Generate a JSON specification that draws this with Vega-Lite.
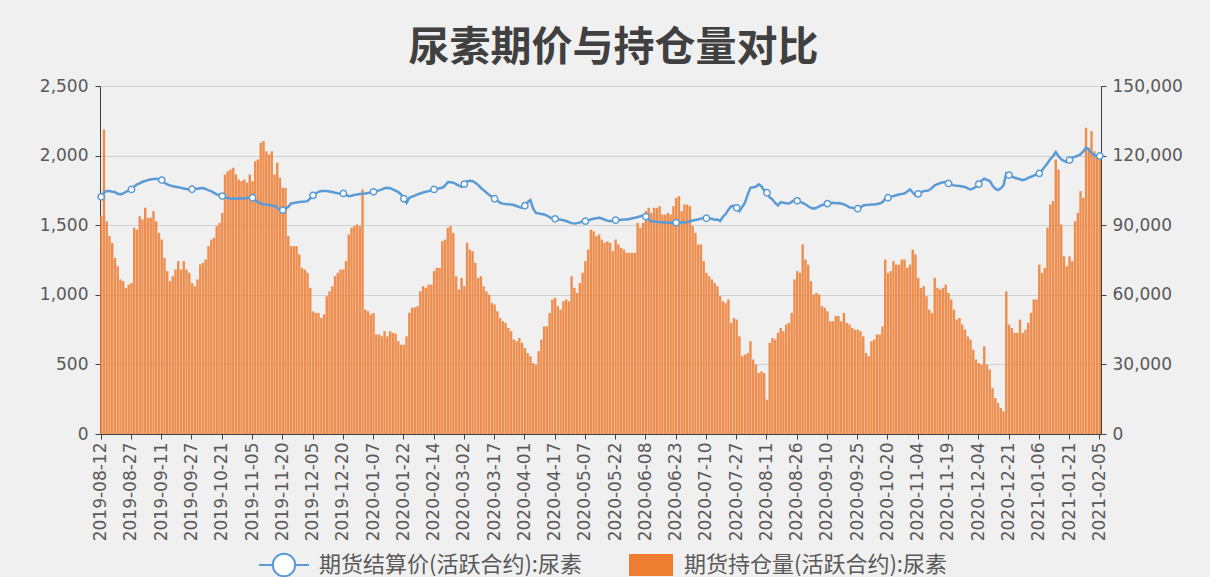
{
"$schema": "https://vega.github.io/schema/vega-lite/v6.json",
"width": 1001, "height": 348,
"autosize": {"type": "none"},
"padding": {"left": 100, "top": 86, "right": 109, "bottom": 143},
"background": "#f0f0f0",
"title": {"text": "尿素期价与持仓量对比", "fontSize": 41, "font": "Noto Sans CJK SC", "fontWeight": "bold", "color": "#404040", "anchor": "middle", "frame": "group", "offset": 7, "dx": 13},
"config": {"view": {"stroke": null}, "axis": {"labelFont": "DejaVu Sans", "labelColor": "#595959", "domainColor": "#404040", "tickColor": "#404040"}},
"data": {"values": [
{"date":"2019-08-12","price":1704,"oi":93900},{"date":"2019-08-13","price":1735,"oi":131300},{"date":"2019-08-14","price":1745,"oi":91700},{"date":"2019-08-15","price":1746,"oi":85300},{"date":"2019-08-16","price":1740,"oi":82400},{"date":"2019-08-19","price":1738,"oi":75900},{"date":"2019-08-20","price":1726,"oi":72300},{"date":"2019-08-21","price":1721,"oi":66600},{"date":"2019-08-22","price":1728,"oi":65900},{"date":"2019-08-23","price":1740,"oi":63000},
{"date":"2019-08-26","price":1750,"oi":64400},{"date":"2019-08-27","price":1757,"oi":65100},{"date":"2019-08-28","price":1778,"oi":88900},{"date":"2019-08-29","price":1793,"oi":88100},{"date":"2019-08-30","price":1800,"oi":93900},{"date":"2019-09-02","price":1812,"oi":92500},{"date":"2019-09-03","price":1817,"oi":97500},{"date":"2019-09-04","price":1825,"oi":93200},{"date":"2019-09-05","price":1829,"oi":93200},{"date":"2019-09-06","price":1832,"oi":96100},
{"date":"2019-09-09","price":1834,"oi":91700},{"date":"2019-09-10","price":1830,"oi":86700},{"date":"2019-09-11","price":1824,"oi":83800},{"date":"2019-09-12","price":1805,"oi":75900},{"date":"2019-09-16","price":1793,"oi":70200},{"date":"2019-09-17","price":1786,"oi":65900},{"date":"2019-09-18","price":1780,"oi":68000},{"date":"2019-09-19","price":1776,"oi":70900},{"date":"2019-09-20","price":1772,"oi":74500},{"date":"2019-09-23","price":1768,"oi":70900},
{"date":"2019-09-24","price":1764,"oi":74500},{"date":"2019-09-25","price":1760,"oi":70900},{"date":"2019-09-26","price":1757,"oi":69500},{"date":"2019-09-27","price":1758,"oi":65100},{"date":"2019-09-30","price":1762,"oi":63700},{"date":"2019-10-08","price":1762,"oi":66600},{"date":"2019-10-09","price":1766,"oi":73100},{"date":"2019-10-10","price":1767,"oi":73800},{"date":"2019-10-11","price":1760,"oi":75200},{"date":"2019-10-14","price":1750,"oi":81000},
{"date":"2019-10-15","price":1745,"oi":83800},{"date":"2019-10-16","price":1732,"oi":84600},{"date":"2019-10-17","price":1721,"oi":89600},{"date":"2019-10-18","price":1715,"oi":91000},{"date":"2019-10-21","price":1709,"oi":95300},{"date":"2019-10-22","price":1702,"oi":111900},{"date":"2019-10-23","price":1695,"oi":113300},{"date":"2019-10-24","price":1690,"oi":114000},{"date":"2019-10-25","price":1691,"oi":114800},{"date":"2019-10-28","price":1690,"oi":111900},
{"date":"2019-10-29","price":1693,"oi":109700},{"date":"2019-10-30","price":1692,"oi":109000},{"date":"2019-10-31","price":1692,"oi":109700},{"date":"2019-11-01","price":1695,"oi":108300},{"date":"2019-11-04","price":1697,"oi":111900},{"date":"2019-11-05","price":1697,"oi":109000},{"date":"2019-11-06","price":1675,"oi":117600},{"date":"2019-11-07","price":1666,"oi":118300},{"date":"2019-11-08","price":1655,"oi":125500},{"date":"2019-11-11","price":1649,"oi":126300},
{"date":"2019-11-12","price":1648,"oi":121900},{"date":"2019-11-13","price":1645,"oi":120500},{"date":"2019-11-14","price":1642,"oi":121900},{"date":"2019-11-15","price":1638,"oi":111900},{"date":"2019-11-18","price":1625,"oi":116900},{"date":"2019-11-19","price":1610,"oi":110400},{"date":"2019-11-20","price":1608,"oi":106100},{"date":"2019-11-21","price":1618,"oi":106100},{"date":"2019-11-22","price":1632,"oi":85300},{"date":"2019-11-25","price":1656,"oi":81000},
{"date":"2019-11-26","price":1660,"oi":81000},{"date":"2019-11-27","price":1663,"oi":81000},{"date":"2019-11-28","price":1666,"oi":77400},{"date":"2019-11-29","price":1668,"oi":71600},{"date":"2019-12-02","price":1670,"oi":70900},{"date":"2019-12-03","price":1673,"oi":69500},{"date":"2019-12-04","price":1692,"oi":63000},{"date":"2019-12-05","price":1714,"oi":52900},{"date":"2019-12-06","price":1728,"oi":52200},{"date":"2019-12-09","price":1740,"oi":52200},
{"date":"2019-12-10","price":1745,"oi":50000},{"date":"2019-12-11","price":1746,"oi":51500},{"date":"2019-12-12","price":1745,"oi":59400},{"date":"2019-12-13","price":1742,"oi":61500},{"date":"2019-12-16","price":1738,"oi":63700},{"date":"2019-12-17","price":1733,"oi":68000},{"date":"2019-12-18","price":1730,"oi":69500},{"date":"2019-12-19","price":1728,"oi":70900},{"date":"2019-12-20","price":1728,"oi":70900},{"date":"2019-12-23","price":1718,"oi":74500},
{"date":"2019-12-24","price":1709,"oi":86000},{"date":"2019-12-25","price":1712,"oi":88900},{"date":"2019-12-26","price":1718,"oi":89600},{"date":"2019-12-27","price":1721,"oi":90300},{"date":"2019-12-30","price":1724,"oi":89600},{"date":"2019-12-31","price":1726,"oi":105400},{"date":"2020-01-02","price":1728,"oi":53600},{"date":"2020-01-03","price":1731,"oi":52900},{"date":"2020-01-06","price":1736,"oi":51500},{"date":"2020-01-07","price":1740,"oi":52200},
{"date":"2020-01-08","price":1745,"oi":42900},{"date":"2020-01-09","price":1750,"oi":42900},{"date":"2020-01-10","price":1757,"oi":42100},{"date":"2020-01-13","price":1765,"oi":44300},{"date":"2020-01-14","price":1769,"oi":42100},{"date":"2020-01-15","price":1766,"oi":44300},{"date":"2020-01-16","price":1757,"oi":43600},{"date":"2020-01-17","price":1748,"oi":43300},{"date":"2020-01-20","price":1738,"oi":40000},{"date":"2020-01-21","price":1721,"oi":38500},
{"date":"2020-01-22","price":1690,"oi":38500},{"date":"2020-01-23","price":1661,"oi":42100},{"date":"2020-02-03","price":1697,"oi":52200},{"date":"2020-02-04","price":1705,"oi":54400},{"date":"2020-02-05","price":1712,"oi":54600},{"date":"2020-02-06","price":1721,"oi":55100},{"date":"2020-02-07","price":1728,"oi":61500},{"date":"2020-02-10","price":1735,"oi":63700},{"date":"2020-02-11","price":1740,"oi":63000},{"date":"2020-02-12","price":1745,"oi":64400},
{"date":"2020-02-13","price":1752,"oi":64400},{"date":"2020-02-14","price":1757,"oi":70200},{"date":"2020-02-17","price":1762,"oi":71600},{"date":"2020-02-18","price":1765,"oi":71600},{"date":"2020-02-19","price":1769,"oi":83100},{"date":"2020-02-20","price":1785,"oi":83800},{"date":"2020-02-21","price":1810,"oi":88900},{"date":"2020-02-24","price":1808,"oi":89600},{"date":"2020-02-25","price":1805,"oi":86700},{"date":"2020-02-26","price":1795,"oi":68000},
{"date":"2020-02-27","price":1785,"oi":62300},{"date":"2020-02-28","price":1776,"oi":67300},{"date":"2020-03-02","price":1795,"oi":63700},{"date":"2020-03-03","price":1817,"oi":82400},{"date":"2020-03-04","price":1820,"oi":79500},{"date":"2020-03-05","price":1817,"oi":78800},{"date":"2020-03-06","price":1805,"oi":73800},{"date":"2020-03-09","price":1790,"oi":67300},{"date":"2020-03-10","price":1769,"oi":68000},{"date":"2020-03-11","price":1752,"oi":63700},
{"date":"2020-03-12","price":1735,"oi":61500},{"date":"2020-03-13","price":1718,"oi":60100},{"date":"2020-03-16","price":1704,"oi":56500},{"date":"2020-03-17","price":1690,"oi":55800},{"date":"2020-03-18","price":1675,"oi":52900},{"date":"2020-03-19","price":1661,"oi":50000},{"date":"2020-03-20","price":1655,"oi":48600},{"date":"2020-03-23","price":1652,"oi":47900},{"date":"2020-03-24","price":1650,"oi":45700},{"date":"2020-03-25","price":1649,"oi":44300},
{"date":"2020-03-26","price":1645,"oi":40700},{"date":"2020-03-27","price":1638,"oi":40000},{"date":"2020-03-30","price":1630,"oi":41400},{"date":"2020-03-31","price":1625,"oi":39300},{"date":"2020-04-01","price":1640,"oi":37100},{"date":"2020-04-02","price":1665,"oi":34900},{"date":"2020-04-03","price":1680,"oi":33500},{"date":"2020-04-07","price":1620,"oi":30600},{"date":"2020-04-08","price":1589,"oi":29900},{"date":"2020-04-09","price":1585,"oi":35700},
{"date":"2020-04-10","price":1580,"oi":40700},{"date":"2020-04-13","price":1577,"oi":46400},{"date":"2020-04-14","price":1568,"oi":46400},{"date":"2020-04-15","price":1558,"oi":52200},{"date":"2020-04-16","price":1548,"oi":58000},{"date":"2020-04-17","price":1546,"oi":58700},{"date":"2020-04-20","price":1542,"oi":55100},{"date":"2020-04-21","price":1540,"oi":53600},{"date":"2020-04-22","price":1536,"oi":57200},{"date":"2020-04-23","price":1530,"oi":58000},
{"date":"2020-04-24","price":1522,"oi":57200},{"date":"2020-04-27","price":1515,"oi":68000},{"date":"2020-04-28","price":1512,"oi":63000},{"date":"2020-04-29","price":1515,"oi":60800},{"date":"2020-04-30","price":1520,"oi":65100},{"date":"2020-05-06","price":1526,"oi":69500},{"date":"2020-05-07","price":1529,"oi":74500},{"date":"2020-05-08","price":1535,"oi":79500},{"date":"2020-05-11","price":1541,"oi":88100},{"date":"2020-05-12","price":1546,"oi":87400},
{"date":"2020-05-13","price":1550,"oi":85300},{"date":"2020-05-14","price":1553,"oi":86000},{"date":"2020-05-15","price":1548,"oi":83800},{"date":"2020-05-18","price":1540,"oi":82400},{"date":"2020-05-19","price":1533,"oi":83100},{"date":"2020-05-20","price":1529,"oi":82400},{"date":"2020-05-21","price":1532,"oi":78800},{"date":"2020-05-22","price":1536,"oi":83800},{"date":"2020-05-25","price":1538,"oi":81700},{"date":"2020-05-26","price":1540,"oi":80200},
{"date":"2020-05-27","price":1541,"oi":79500},{"date":"2020-05-28","price":1541,"oi":78100},{"date":"2020-05-29","price":1545,"oi":78100},{"date":"2020-06-01","price":1550,"oi":78100},{"date":"2020-06-02","price":1553,"oi":78100},{"date":"2020-06-03","price":1558,"oi":91000},{"date":"2020-06-04","price":1564,"oi":88900},{"date":"2020-06-05","price":1570,"oi":91000},{"date":"2020-06-08","price":1562,"oi":96100},{"date":"2020-06-09","price":1540,"oi":97500},
{"date":"2020-06-10","price":1529,"oi":95300},{"date":"2020-06-11","price":1527,"oi":97500},{"date":"2020-06-12","price":1525,"oi":97500},{"date":"2020-06-15","price":1522,"oi":98200},{"date":"2020-06-16","price":1522,"oi":94600},{"date":"2020-06-17","price":1520,"oi":94600},{"date":"2020-06-18","price":1519,"oi":95300},{"date":"2020-06-19","price":1518,"oi":94600},{"date":"2020-06-22","price":1517,"oi":98200},{"date":"2020-06-23","price":1518,"oi":101800},
{"date":"2020-06-24","price":1519,"oi":102500},{"date":"2020-06-29","price":1520,"oi":96100},{"date":"2020-06-30","price":1521,"oi":98900},{"date":"2020-07-01","price":1522,"oi":98900},{"date":"2020-07-02","price":1528,"oi":98200},{"date":"2020-07-03","price":1534,"oi":89600},{"date":"2020-07-06","price":1538,"oi":86700},{"date":"2020-07-07","price":1541,"oi":81700},{"date":"2020-07-08","price":1547,"oi":81700},{"date":"2020-07-09","price":1553,"oi":74500},
{"date":"2020-07-10","price":1550,"oi":69500},{"date":"2020-07-13","price":1548,"oi":68000},{"date":"2020-07-14","price":1546,"oi":66600},{"date":"2020-07-15","price":1540,"oi":65100},{"date":"2020-07-16","price":1541,"oi":63700},{"date":"2020-07-17","price":1530,"oi":59400},{"date":"2020-07-20","price":1560,"oi":57200},{"date":"2020-07-21","price":1580,"oi":56500},{"date":"2020-07-22","price":1612,"oi":58000},{"date":"2020-07-23","price":1637,"oi":47900},
{"date":"2020-07-24","price":1640,"oi":50000},{"date":"2020-07-27","price":1625,"oi":49300},{"date":"2020-07-28","price":1601,"oi":42100},{"date":"2020-07-29","price":1630,"oi":33500},{"date":"2020-07-30","price":1661,"oi":34200},{"date":"2020-07-31","price":1720,"oi":34900},{"date":"2020-08-03","price":1769,"oi":40000},{"date":"2020-08-04","price":1772,"oi":32100},{"date":"2020-08-05","price":1776,"oi":29900},{"date":"2020-08-06","price":1793,"oi":26300},
{"date":"2020-08-07","price":1780,"oi":27000},{"date":"2020-08-10","price":1750,"oi":26300},{"date":"2020-08-11","price":1733,"oi":14800},{"date":"2020-08-12","price":1700,"oi":39300},{"date":"2020-08-13","price":1685,"oi":41400},{"date":"2020-08-14","price":1660,"oi":40700},{"date":"2020-08-17","price":1642,"oi":43600},{"date":"2020-08-18","price":1666,"oi":45700},{"date":"2020-08-19","price":1662,"oi":44300},{"date":"2020-08-20","price":1658,"oi":47200},
{"date":"2020-08-21","price":1656,"oi":47900},{"date":"2020-08-24","price":1668,"oi":52200},{"date":"2020-08-25","price":1680,"oi":66600},{"date":"2020-08-26","price":1675,"oi":70200},{"date":"2020-08-27","price":1668,"oi":69500},{"date":"2020-08-28","price":1661,"oi":81700},{"date":"2020-08-31","price":1650,"oi":75200},{"date":"2020-09-01","price":1636,"oi":73000},{"date":"2020-09-02","price":1625,"oi":65900},{"date":"2020-09-03","price":1618,"oi":60100},
{"date":"2020-09-04","price":1625,"oi":60800},{"date":"2020-09-07","price":1635,"oi":60100},{"date":"2020-09-08","price":1645,"oi":55100},{"date":"2020-09-09","price":1649,"oi":54400},{"date":"2020-09-10","price":1655,"oi":52900},{"date":"2020-09-11","price":1660,"oi":48600},{"date":"2020-09-14","price":1661,"oi":48600},{"date":"2020-09-15","price":1658,"oi":50900},{"date":"2020-09-16","price":1660,"oi":50900},{"date":"2020-09-17","price":1656,"oi":48600},
{"date":"2020-09-18","price":1650,"oi":52200},{"date":"2020-09-21","price":1640,"oi":47900},{"date":"2020-09-22","price":1628,"oi":47200},{"date":"2020-09-23","price":1625,"oi":45700},{"date":"2020-09-24","price":1620,"oi":45000},{"date":"2020-09-25","price":1618,"oi":45000},{"date":"2020-09-28","price":1628,"oi":44300},{"date":"2020-09-29","price":1642,"oi":42100},{"date":"2020-09-30","price":1645,"oi":34900},{"date":"2020-10-09","price":1646,"oi":33500},
{"date":"2020-10-12","price":1648,"oi":40000},{"date":"2020-10-13","price":1649,"oi":40700},{"date":"2020-10-14","price":1652,"oi":42900},{"date":"2020-10-15","price":1656,"oi":42900},{"date":"2020-10-16","price":1665,"oi":46400},{"date":"2020-10-19","price":1690,"oi":75200},{"date":"2020-10-20","price":1697,"oi":69500},{"date":"2020-10-21","price":1703,"oi":70200},{"date":"2020-10-22","price":1709,"oi":74500},{"date":"2020-10-23","price":1715,"oi":73000},
{"date":"2020-10-26","price":1720,"oi":73000},{"date":"2020-10-27","price":1725,"oi":75200},{"date":"2020-10-28","price":1728,"oi":75200},{"date":"2020-10-29","price":1742,"oi":71600},{"date":"2020-10-30","price":1757,"oi":73000},{"date":"2020-11-02","price":1735,"oi":79500},{"date":"2020-11-03","price":1714,"oi":77400},{"date":"2020-11-04","price":1725,"oi":67300},{"date":"2020-11-05","price":1738,"oi":63000},{"date":"2020-11-06","price":1745,"oi":63700},
{"date":"2020-11-09","price":1748,"oi":59400},{"date":"2020-11-10","price":1752,"oi":53600},{"date":"2020-11-11","price":1768,"oi":52200},{"date":"2020-11-12","price":1786,"oi":67300},{"date":"2020-11-13","price":1795,"oi":63000},{"date":"2020-11-16","price":1802,"oi":62300},{"date":"2020-11-17","price":1808,"oi":63000},{"date":"2020-11-18","price":1810,"oi":64400},{"date":"2020-11-19","price":1800,"oi":60800},{"date":"2020-11-20","price":1792,"oi":58000},
{"date":"2020-11-23","price":1786,"oi":53600},{"date":"2020-11-24","price":1784,"oi":49300},{"date":"2020-11-25","price":1781,"oi":50000},{"date":"2020-11-26","price":1778,"oi":47200},{"date":"2020-11-27","price":1775,"oi":45000},{"date":"2020-11-30","price":1765,"oi":42100},{"date":"2020-12-01","price":1757,"oi":40700},{"date":"2020-12-02","price":1765,"oi":36400},{"date":"2020-12-03","price":1776,"oi":32100},{"date":"2020-12-04","price":1795,"oi":30600},
{"date":"2020-12-07","price":1820,"oi":29900},{"date":"2020-12-08","price":1834,"oi":37800},{"date":"2020-12-09","price":1826,"oi":29900},{"date":"2020-12-10","price":1817,"oi":27800},{"date":"2020-12-11","price":1785,"oi":19800},{"date":"2020-12-14","price":1762,"oi":15500},{"date":"2020-12-15","price":1752,"oi":13400},{"date":"2020-12-16","price":1765,"oi":11200},{"date":"2020-12-17","price":1786,"oi":9800},{"date":"2020-12-18","price":1872,"oi":61500},
{"date":"2020-12-21","price":1860,"oi":47200},{"date":"2020-12-22","price":1850,"oi":45700},{"date":"2020-12-23","price":1841,"oi":43600},{"date":"2020-12-24","price":1836,"oi":43600},{"date":"2020-12-25","price":1830,"oi":49300},{"date":"2020-12-28","price":1824,"oi":43600},{"date":"2020-12-29","price":1830,"oi":45000},{"date":"2020-12-30","price":1840,"oi":47900},{"date":"2020-12-31","price":1848,"oi":52200},{"date":"2021-01-04","price":1856,"oi":58000},
{"date":"2021-01-05","price":1865,"oi":58000},{"date":"2021-01-06","price":1872,"oi":73000},{"date":"2021-01-07","price":1895,"oi":69500},{"date":"2021-01-08","price":1920,"oi":71600},{"date":"2021-01-11","price":1945,"oi":88900},{"date":"2021-01-12","price":1975,"oi":98900},{"date":"2021-01-13","price":1995,"oi":100400},{"date":"2021-01-14","price":2025,"oi":118300},{"date":"2021-01-15","price":1995,"oi":114000},{"date":"2021-01-18","price":1973,"oi":90300},
{"date":"2021-01-19","price":1962,"oi":76600},{"date":"2021-01-20","price":1954,"oi":72300},{"date":"2021-01-21","price":1968,"oi":76600},{"date":"2021-01-22","price":1985,"oi":74500},{"date":"2021-01-25","price":1992,"oi":91700},{"date":"2021-01-26","price":2000,"oi":95300},{"date":"2021-01-27","price":2009,"oi":104700},{"date":"2021-01-28","price":2030,"oi":101800},{"date":"2021-01-29","price":2057,"oi":132000},{"date":"2021-02-01","price":2045,"oi":123400},
{"date":"2021-02-02","price":2016,"oi":130600},{"date":"2021-02-03","price":2005,"oi":121900},{"date":"2021-02-04","price":1992,"oi":119800},{"date":"2021-02-05","price":1997,"oi":119800}
]},
"encoding": {
 "x": {"field": "date", "type": "ordinal", "scale": {"type": "band", "paddingInner": 0.12, "paddingOuter": 0},
  "axis": {"title": null, "values": ["2019-08-12","2019-08-27","2019-09-11","2019-09-27","2019-10-21","2019-11-05","2019-11-20","2019-12-05","2019-12-20","2020-01-07","2020-01-22","2020-02-14","2020-03-02","2020-03-17","2020-04-01","2020-04-17","2020-05-07","2020-05-22","2020-06-08","2020-06-23","2020-07-10","2020-07-27","2020-08-11","2020-08-26","2020-09-10","2020-09-25","2020-10-20","2020-11-04","2020-11-19","2020-12-04","2020-12-21","2021-01-06","2021-01-21","2021-02-05"],
   "labelAngle": -90, "labelFontSize": 17, "tickSize": 5, "labelPadding": 3, "grid": false, "labelOverlap": false}}
},
"layer": [
 {"mark": {"type": "bar", "fillOpacity": 0.85},
  "encoding": {
   "y": {"field": "oi", "type": "quantitative", "scale": {"domain": [0, 150000], "nice": false},
    "axis": {"orient": "right", "title": null, "values": [0, 30000, 60000, 90000, 120000, 150000], "format": ",d", "labelFontSize": 17, "tickSize": 5, "labelPadding": 6, "grid": false}},
   "fill": {"datum": "期货持仓量(活跃合约):尿素", "type": "nominal", "scale": {"range": ["#ed7d31"]},
    "legend": {"orient": "none", "legendX": 528, "legendY": 456, "title": null, "symbolType": "M-1,-0.5H1V0.5H-1Z", "symbolSize": 1936, "symbolOpacity": 1, "labelFontSize": 22, "labelFont": "Noto Sans CJK SC", "labelColor": "#595959", "labelOffset": 10, "labelLimit": 500, "padding": 0}}
  }},
 {"layer": [
  {"mark": {"type": "line", "strokeWidth": 2.5},
   "encoding": {
    "y": {"field": "price", "type": "quantitative", "scale": {"domain": [0, 2500], "nice": false},
     "axis": {"orient": "left", "title": null, "values": [0, 500, 1000, 1500, 2000, 2500], "format": ",d", "labelFontSize": 17, "tickSize": 5, "labelPadding": 7, "grid": true, "gridColor": "#d0d0d0"}},
    "stroke": {"datum": "期货结算价(活跃合约):尿素", "type": "nominal", "scale": {"range": ["#5b9bd5"]},
     "legend": {"orient": "none", "legendX": 158, "legendY": 453, "title": null, "symbolType": "M-1,0L-0.45,0M0.45,0L1,0M0.45,0A0.45,0.45 0 1 1 -0.45,0A0.45,0.45 0 1 1 0.45,0Z", "symbolSize": 2500, "symbolStrokeWidth": 2, "symbolFillColor": "#ffffff", "labelFontSize": 22, "labelFont": "Noto Sans CJK SC", "labelColor": "#595959", "labelOffset": 9, "labelLimit": 500, "padding": 0}}
   }},
  {"transform": [{"filter": {"field": "date", "oneOf": ["2019-08-12","2019-08-27","2019-09-11","2019-09-27","2019-10-21","2019-11-05","2019-11-20","2019-12-05","2019-12-20","2020-01-07","2020-01-22","2020-02-14","2020-03-02","2020-03-17","2020-04-01","2020-04-17","2020-05-07","2020-05-22","2020-06-08","2020-06-23","2020-07-10","2020-07-27","2020-08-11","2020-08-26","2020-09-10","2020-09-25","2020-10-20","2020-11-04","2020-11-19","2020-12-04","2020-12-21","2021-01-06","2021-01-21","2021-02-05"]}}],
   "mark": {"type": "point", "filled": true, "fill": "#ffffff", "stroke": "#5b9bd5", "strokeWidth": 1.5, "size": 40, "opacity": 1},
   "encoding": {"y": {"field": "price", "type": "quantitative"}}}
 ]}
],
"resolve": {"scale": {"y": "independent"}}
}
